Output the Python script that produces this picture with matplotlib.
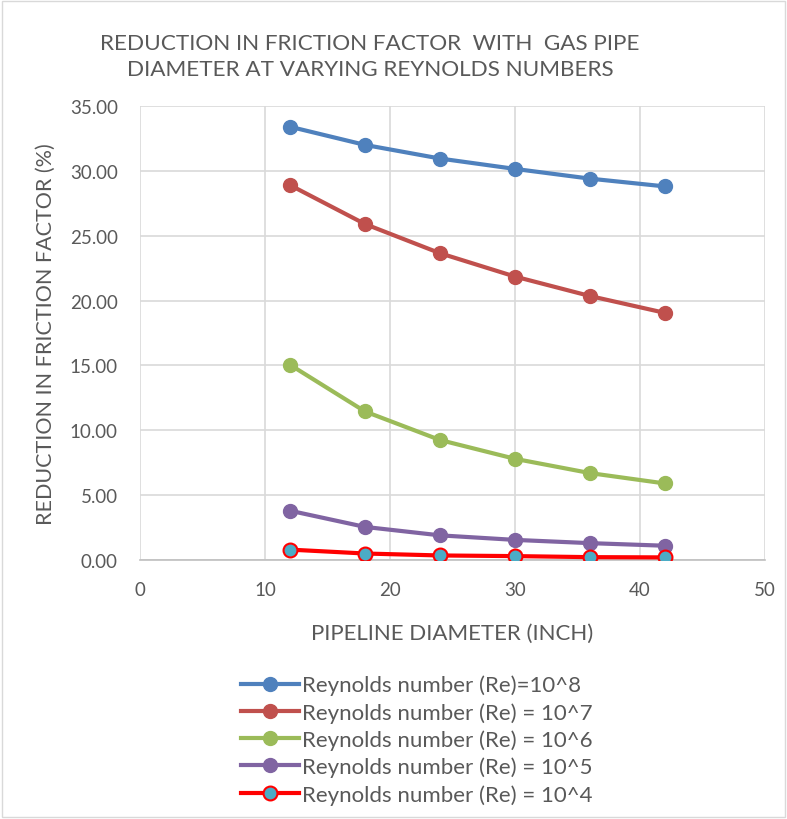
import matplotlib.pyplot as plt
from matplotlib.patches import Rectangle

plt.rcParams['font.family'] = ['Lato', 'DejaVu Sans']

diameter = [12, 18, 24, 30, 36, 42]
re_1e8 = [33.4, 32.0, 30.95, 30.15, 29.4, 28.8]
re_1e7 = [28.9, 25.9, 23.65, 21.85, 20.35, 19.05]
re_1e6 = [15.05, 11.45, 9.25, 7.8, 6.7, 5.9]
re_1e5 = [3.8, 2.55, 1.9, 1.55, 1.3, 1.1]
re_1e4 = [0.8, 0.5, 0.35, 0.3, 0.22, 0.2]

labels = ['Reynolds number (Re)=10^8',
          'Reynolds number (Re) = 10^7',
          'Reynolds number (Re) = 10^6',
          'Reynolds number (Re) = 10^5',
          'Reynolds number (Re) = 10^4']

text_col = '#595959'

fig = plt.figure(figsize=(7.87, 8.20), dpi=100)
ax = fig.add_axes([140/787, 1-561/820, 625/787, (561-107)/820])

ax.plot(diameter, re_1e8, color='#4f81bd', lw=3, marker='o', ms=10, label=labels[0], zorder=3)
ax.plot(diameter, re_1e7, color='#c0504d', lw=3, marker='o', ms=10, label=labels[1], zorder=3)
ax.plot(diameter, re_1e6, color='#9bbb59', lw=3, marker='o', ms=10, label=labels[2], zorder=3)
ax.plot(diameter, re_1e5, color='#8064a2', lw=3, marker='o', ms=10, label=labels[3], zorder=3)
ax.plot(diameter, re_1e4, color='#ff0000', lw=3, marker='o', ms=10, mfc='#4bacc6',
        mec='#ff0000', mew=1.5, label=labels[4], zorder=4)

ax.set_xlim(0, 50)
ax.set_ylim(0, 35)
ax.set_xticks(range(0, 51, 10))
ax.set_yticks([0, 5, 10, 15, 20, 25, 30, 35])
ax.set_yticklabels([f'{v:.2f}' for v in ax.get_yticks()])
ax.grid(True, color='#d9d9d9', lw=1.2)
ax.set_axisbelow(True)
for s in ['top', 'right', 'left']:
    ax.spines[s].set_visible(False)
ax.spines['bottom'].set_color('#bfbfbf')
ax.spines['bottom'].set_linewidth(1.2)
ax.tick_params(length=0, labelsize=13.5, colors=text_col)
ax.tick_params(axis='y', pad=16)
ax.tick_params(axis='x', pad=15)

ax.set_xlabel('PIPELINE DIAMETER (INCH)', fontsize=16, color=text_col, labelpad=18)
ax.set_ylabel('REDUCTION IN FRICTION FACTOR (%)', fontsize=15.5, color=text_col, labelpad=10)
fig.text(370/787, 1-57/820, 'REDUCTION IN FRICTION FACTOR  WITH  GAS PIPE\nDIAMETER AT VARYING REYNOLDS NUMBERS',
         ha='center', va='center', fontsize=16.2, color=text_col, linespacing=1.4)

ax.legend(loc='upper left', bbox_to_anchor=(232/787, 1-667/820), bbox_transform=fig.transFigure,
          frameon=False, fontsize=16, labelcolor=text_col, handlelength=2.6, handletextpad=0.15,
          labelspacing=0.3, borderaxespad=0)

fig.patches.append(Rectangle((0.002, 0.002), 0.996, 0.996, transform=fig.transFigure,
                             fill=False, edgecolor='#d9d9d9', lw=1))

fig.savefig('out.png', dpi=100)
